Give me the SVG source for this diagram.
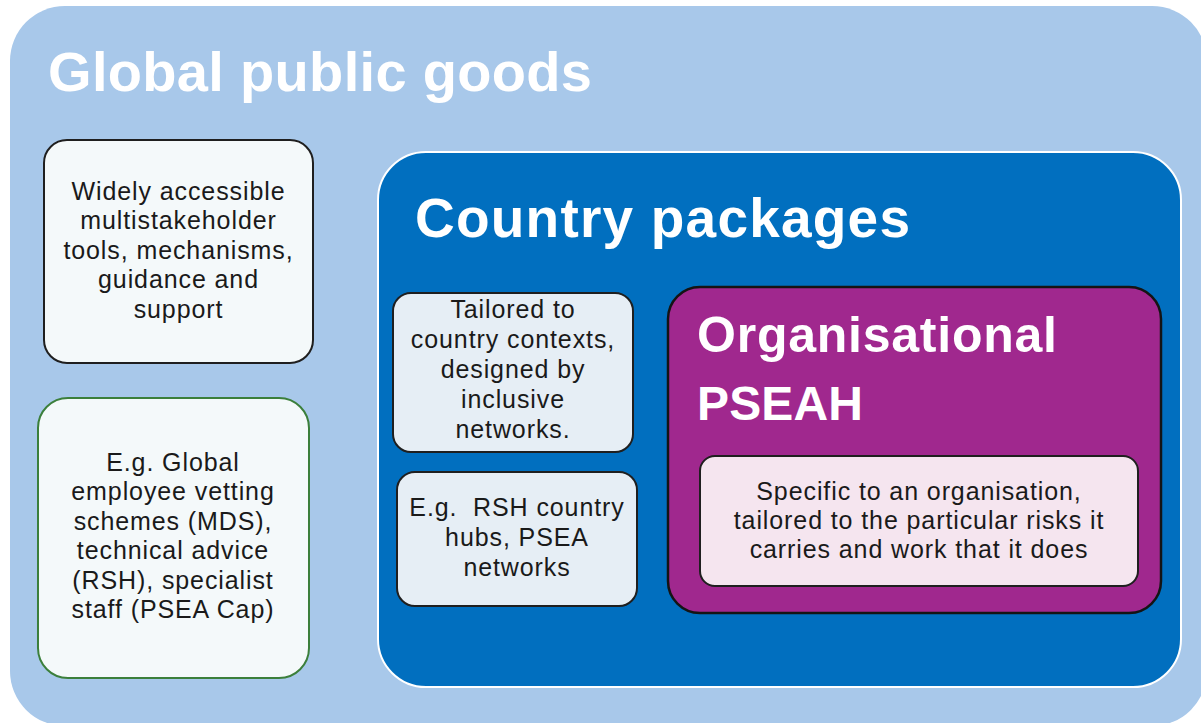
<svg xmlns="http://www.w3.org/2000/svg" width="1201" height="723" viewBox="0 0 1201 723">
  <style>
    .title { font-family: "Liberation Sans", Arial, sans-serif; font-weight: bold; fill: #ffffff; }
    .body { font-family: "Liberation Sans", Arial, sans-serif; font-size: 25px; letter-spacing: 0.9px; fill: #1a1a1a; text-anchor: middle; }
    .card { stroke: #1f1f1f; stroke-width: 2; }
  </style>

  <!-- outer tier: global public goods -->
  <g id="global-public-goods">
    <rect x="10" y="6" width="1197" height="720" rx="55" fill="#a8c8ea"/>
    <text class="title" x="48" y="91" font-size="56" textLength="544">Global public goods</text>
  </g>

  <g id="global-tools">
    <rect class="card" x="44" y="140" width="269" height="223" rx="23" fill="#f4f9fa"/>
    <text class="body" x="178.5" y="200">Widely accessible</text>
    <text class="body" x="178.5" y="229.4">multistakeholder</text>
    <text class="body" x="178.5" y="258.8">tools, mechanisms,</text>
    <text class="body" x="178.5" y="288.2">guidance and</text>
    <text class="body" x="178.5" y="317.6">support</text>
  </g>

  <g id="global-examples">
    <rect x="38" y="398" width="271" height="280" rx="30" fill="#f4f9fa" stroke="#3b7f3b" stroke-width="2"/>
    <text class="body" x="173" y="471">E.g. Global</text>
    <text class="body" x="173" y="500">employee vetting</text>
    <text class="body" x="173" y="529.5">schemes (MDS),</text>
    <text class="body" x="173" y="559">technical advice</text>
    <text class="body" x="173" y="588.5">(RSH), specialist</text>
    <text class="body" x="173" y="618">staff (PSEA Cap)</text>
  </g>

  <!-- middle tier: country packages -->
  <g id="country-packages">
    <rect x="378" y="152" width="803" height="535" rx="48" fill="#016fbf" stroke="#ffffff" stroke-width="2"/>
    <text class="title" x="415" y="237" font-size="55" textLength="495">Country packages</text>
  </g>

  <g id="country-tailored">
    <rect class="card" x="393" y="293" width="240" height="159" rx="18" fill="#e6eef5"/>
    <text class="body" x="513" y="318">Tailored to</text>
    <text class="body" x="513" y="348">country contexts,</text>
    <text class="body" x="513" y="378">designed by</text>
    <text class="body" x="513" y="408">inclusive</text>
    <text class="body" x="513" y="438">networks.</text>
  </g>

  <g id="country-examples">
    <rect class="card" x="397" y="472" width="240" height="134" rx="18" fill="#e6eef5"/>
    <text class="body" x="517" y="516">E.g.&#160; RSH country</text>
    <text class="body" x="517" y="546">hubs, PSEA</text>
    <text class="body" x="517" y="576">networks</text>
  </g>

  <!-- inner tier: organisational PSEAH -->
  <g id="organisational-pseah">
    <rect x="668" y="287" width="493" height="326" rx="32" fill="#a0288e" stroke="#141414" stroke-width="2.5"/>
    <text class="title" x="697" y="352" font-size="50" textLength="360">Organisational</text>
    <text class="title" x="697" y="420" font-size="48" textLength="166">PSEAH</text>
  </g>

  <g id="organisational-detail">
    <rect class="card" x="700" y="456" width="438" height="130" rx="15" fill="#f5e5ef"/>
    <text class="body" x="919" y="500">Specific to an organisation,</text>
    <text class="body" x="919" y="529">tailored to the particular risks it</text>
    <text class="body" x="919" y="558">carries and work that it does</text>
  </g>
</svg>
